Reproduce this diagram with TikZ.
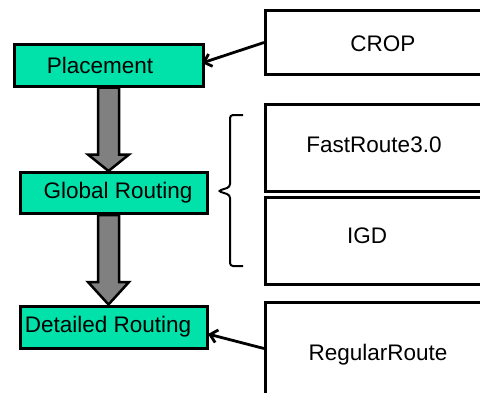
\documentclass[tikz,border=0pt]{standalone}
\usepackage{fontspec}
\setmainfont{Liberation Sans}
\usetikzlibrary{arrows.meta,calc}
\definecolor{stage}{RGB}{0,226,170}
\definecolor{flowgray}{RGB}{128,128,128}
\tikzset{
  stagebox/.style={draw=black, line width=3pt, fill=stage, minimum width=187pt, minimum height=41pt, inner sep=0pt},
  toolbox/.style={draw=black, line width=3pt, fill=white, anchor=north west, inner sep=0pt},
  lbl/.style={font=\fontsize{22.5}{25}\selectfont, inner sep=0pt},
  flow/.style={draw=black, line width=2.5pt, fill=flowgray, line join=miter},
  feed/.style={draw=black, line width=2.8pt, -{Straight Barb[length=7pt,width=13pt,line width=2.8pt]}},
  bracket/.style={draw=black, line width=2pt, rounded corners=3pt}
}
\begin{document}
\begin{tikzpicture}[x=1pt, y=-1pt]
  \useasboundingbox (0,0) rectangle (480,392);
  \clip (0,0) rectangle (480,392);

  % flow stages
  \node[stagebox, minimum width=189pt, minimum height=42pt] (place) at (108.5,65) {};
  \node[stagebox] (global) at (113.5,193) {};
  \node[stagebox, minimum height=42pt] (detail) at (113.5,327) {};
  \node[lbl] at (100,65) {Placement};
  \node[lbl] at (118,193) {Global Routing};
  \node[lbl] at (108,327) {Detailed Routing};

  % tools (boxes run past the right edge)
  \node[toolbox, minimum width=230pt, minimum height=64pt] (crop) at (264,9) {};
  \node[toolbox, minimum width=230pt, minimum height=87pt] (fr) at (264,103) {};
  \node[toolbox, minimum width=230pt, minimum height=87pt] (igd) at (264,196) {};
  \node[toolbox, minimum width=230pt, minimum height=92pt] (rr) at (264,301) {};
  \node[lbl] at (383,44) {CROP};
  \node[lbl] at (374,145) {FastRoute3.0};
  \node[lbl] at (367,236) {IGD};
  \node[lbl] at (378,355) {RegularRoute};

  % block arrows between stages
  \foreach \a/\b in {place/global, global/detail} {
    \path let \p1 = (place.south), \p2 = (\a.south), \p3 = (\b.north) in
      coordinate (s1) at (\x1-10.5,\y2)
      coordinate (s2) at (\x1+10.5,\y2)
      coordinate (tip) at (\x1,\y3);
    \draw[flow] (s1) -- ($(s1)+(0,67)$) -- ++(-10,0) -- (tip)
      -- ($(s2)+(10,67)$) -- ($(s2)+(0,67)$) -- (s2) -- cycle;
  }

  % tool feeds
  \coordinate (cropend) at (202,63);
  \coordinate (rrstart) at (rr.west);
  \coordinate (rrend) at (208,334);
  \draw[feed] (crop.west) -- (cropend);
  \draw[feed] (rrstart) -- (rrend);

  % bracket grouping the global routers
  \coordinate (brtip) at (218,191);
  \draw[bracket] (243,115) -- (230,115) -- (230,187) -- (brtip) -- (230,195) -- (230,266) -- (243,266);
\end{tikzpicture}
\end{document}
